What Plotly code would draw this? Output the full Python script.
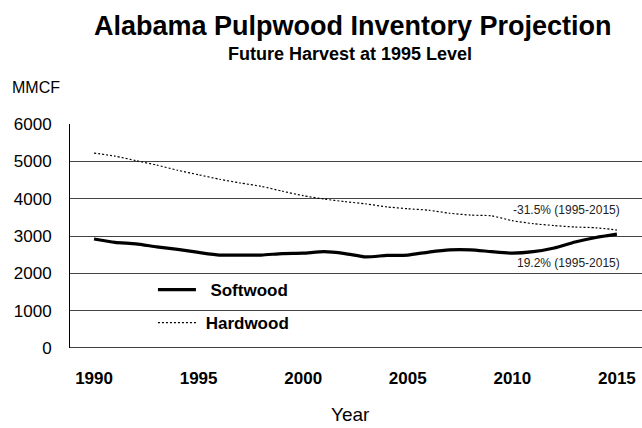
import plotly.graph_objects as go

years = list(range(1990, 2016))
softwood = [2920, 2830, 2790, 2710, 2640, 2560, 2490, 2490, 2490, 2530, 2540, 2580, 2530, 2440,
            2480, 2490, 2570, 2630, 2630, 2580, 2540, 2580, 2680, 2840, 2960, 3050]
hardwood = [5220, 5140, 5020, 4900, 4760, 4640, 4520, 4420, 4330, 4200, 4080, 3990, 3920, 3860,
            3780, 3730, 3690, 3610, 3560, 3540, 3410, 3330, 3280, 3240, 3220, 3160]
x_ticks = [1990, 1995, 2000, 2005, 2010, 2015]
y_ticks = [0, 1000, 2000, 3000, 4000, 5000, 6000]

FONT = "Liberation Sans, Arial, sans-serif"
PLOT_TOP, PLOT_BOTTOM, PLOT_H, PLOT_L, PLOT_W = 124, 348, 224, 70, 572


def py(px):
    return (PLOT_BOTTOM - px) / PLOT_H


fig = go.Figure()
fig.add_trace(go.Scatter(x=years, y=softwood, mode="lines", name="\u00a0\u00a0Softwood",
                         legendgroup="s",
                         line=dict(color="black", width=3.2, shape="spline", smoothing=0.6)))
fig.add_trace(go.Scatter(x=years, y=hardwood, mode="lines", name="\u00a0Hardwood",
                         legendgroup="h",
                         line=dict(color="black", width=1.2, dash="2px,2px", shape="spline", smoothing=0.6)))

fig.add_annotation(x=2015.25, y=3690, text="-31.5% (1995-2015)", showarrow=False,
                   xanchor="right", yanchor="middle", font=dict(family=FONT, size=12, color="#222"))
fig.add_annotation(x=2015.25, y=2290, text="19.2% (1995-2015)", showarrow=False,
                   xanchor="right", yanchor="middle", font=dict(family=FONT, size=12, color="#222"))

fig.add_annotation(x=0.495, y=py(26), xref="paper", yref="paper", yanchor="middle",
                   text="<b>Alabama Pulpwood Inventory Projection</b>", showarrow=False,
                   font=dict(family=FONT, size=27, color="black"))
fig.add_annotation(x=0.49, y=py(54), xref="paper", yref="paper", yanchor="middle",
                   text="<b>Future Harvest at 1995 Level</b>", showarrow=False,
                   font=dict(family=FONT, size=18, color="black"))
fig.add_annotation(x=(10 - PLOT_L) / PLOT_W, y=py(88), xref="paper", yref="paper", text="MMCF",
                   showarrow=False, xanchor="left", yanchor="middle",
                   font=dict(family=FONT, size=16, color="black"))
fig.add_annotation(x=0.49, y=py(414), xref="paper", yref="paper", text="Year",
                   showarrow=False, yanchor="middle", font=dict(family=FONT, size=19, color="black"))

fig.update_layout(
    width=642, height=428,
    margin=dict(l=PLOT_L, r=0, t=PLOT_TOP, b=428 - PLOT_BOTTOM),
    paper_bgcolor="white", plot_bgcolor="white",
    font=dict(family=FONT, color="black"),
    showlegend=True,
    legend=dict(x=0.145, y=py(272), xanchor="left", yanchor="top", bgcolor="rgba(0,0,0,0)",
                font=dict(family=FONT, size=17, color="black", weight="bold"),
                itemwidth=38, tracegroupgap=8),
    xaxis=dict(range=[1988.85, 2016.2], tickvals=x_ticks, showgrid=False, zeroline=False,
               showline=False, ticks="", ticklabelstandoff=18,
               tickfont=dict(family=FONT, size=17, color="black", weight="bold")),
    yaxis=dict(range=[0, 6000], tickvals=y_ticks, showgrid=True, gridcolor="#444", gridwidth=1,
               zeroline=False, showline=True, linecolor="black", linewidth=1, ticks="",
               ticklabelstandoff=14, tickfont=dict(family=FONT, size=17, color="black")),
)
fig.add_hline(y=0, line=dict(color="black", width=1.5))

fig.write_html("out.html")
